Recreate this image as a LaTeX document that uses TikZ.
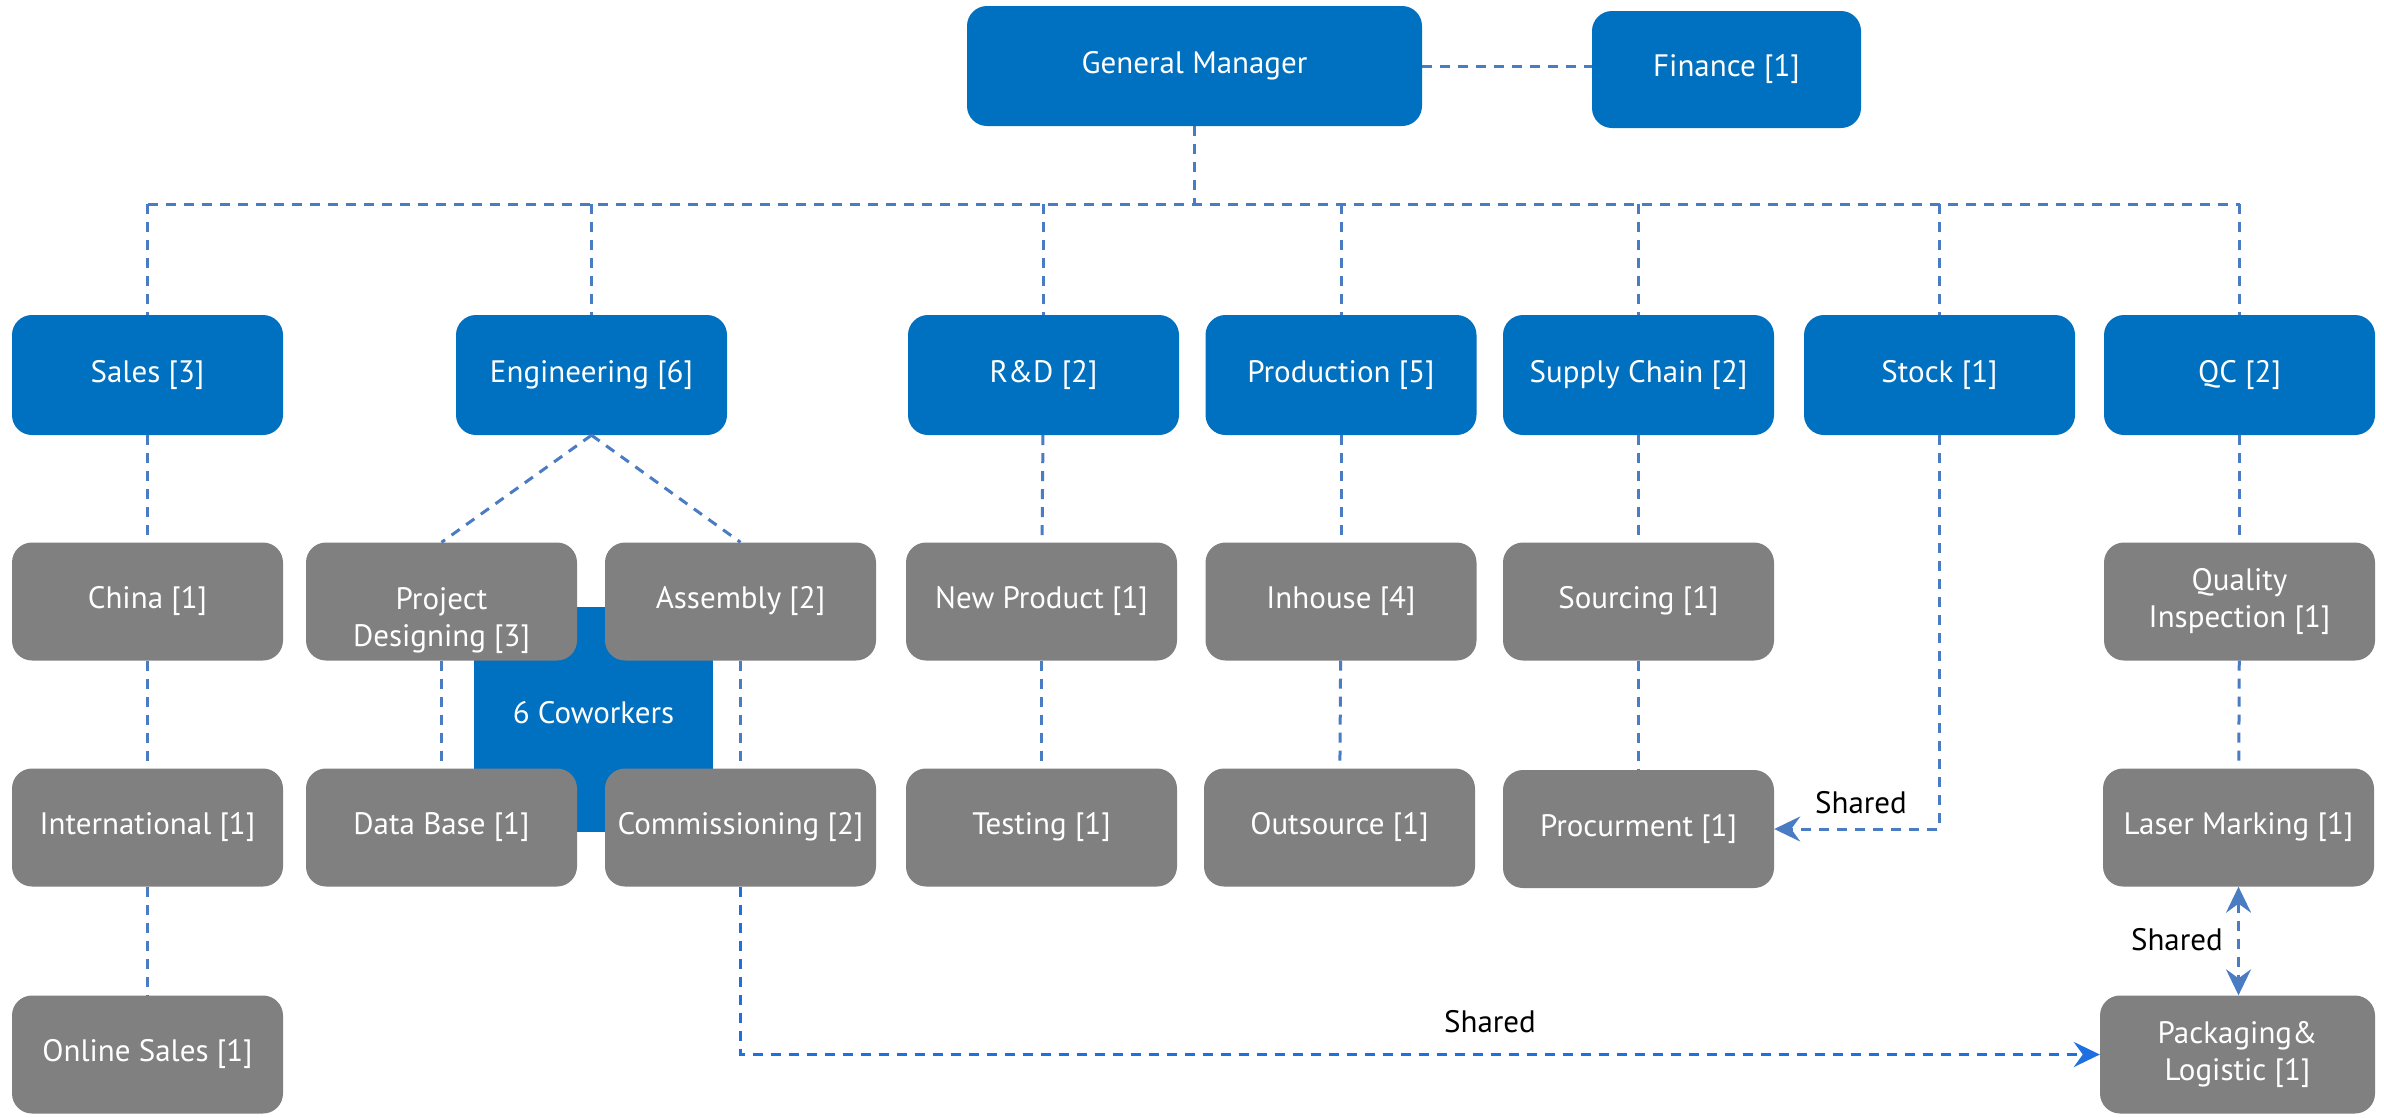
\documentclass[tikz,border=0pt]{standalone}
\usepackage{fontspec}
\setmainfont{PT Sans}
\usetikzlibrary{arrows.meta}
\definecolor{bblue}{HTML}{0070C0}
\definecolor{bgray}{HTML}{808080}
\definecolor{lblue}{HTML}{4A7CC4}
\definecolor{ablue}{HTML}{1E6FE0}
\begin{document}
\begin{tikzpicture}[x=1pt,y=-1pt,
 txt/.style={font=\fontsize{31}{37}\selectfont},
 box/.style={rounded corners=20pt, text=white, align=center, txt, inner sep=0pt, minimum width=271pt, minimum height=118pt},
 bluebox/.style={box, fill=bblue},
 graybox/.style={box, fill=bgray},
 link/.style={draw=lblue, line width=3pt, dash pattern=on 10pt off 8pt},
 tip/.style={-{Stealth[length=26pt,width=25pt,inset=9pt]}},
 dtip/.style={{Stealth[length=26pt,width=25pt,inset=9pt]}-{Stealth[length=26pt,width=25pt,inset=9pt]}},
 lbl/.style={txt, text=black, inner sep=0pt}
]
\path[use as bounding box, fill=white] (0,0) rectangle (2384,1117);

% coworkers square
\node[fill=bblue, minimum width=239pt, minimum height=225pt, inner sep=0pt,
      label={[txt, text=white, yshift=7pt]center:6 Coworkers}] (cow) at (593.5,719.5) {};

% top
\node[bluebox, minimum width=455pt, minimum height=120pt] (gm) at (1194.5,66) {General Manager};
\node[bluebox, minimum width=269pt, minimum height=117pt] (fin) at (1726.5,69.5) {Finance [1]};

% row 2
\node[bluebox, minimum height=120pt] (sales) at (147.5,375) {Sales [3]};
\node[bluebox, minimum height=120pt] (eng) at (591.5,375) {Engineering [6]};
\node[bluebox, minimum height=120pt] (rd) at (1043.5,375) {R\&D [2]};
\node[bluebox, minimum height=120pt] (prod) at (1341,375) {Production [5]};
\node[bluebox, minimum height=120pt] (supply) at (1638.5,375) {Supply Chain [2]};
\node[bluebox, minimum height=120pt] (stock) at (1939.5,375) {Stock [1]};
\node[bluebox, minimum height=120pt] (qc) at (2239.5,375) {QC [2]};

% row 3
\node[graybox] (china) at (147.5,601.5) {China [1]};
\node[graybox, label={[txt, text=white, align=center, yshift=-19pt]center:Project\\Designing [3]}] (pd) at (441.5,601.5) {};
\node[graybox] (asm) at (740.5,601.5) {Assembly [2]};
\node[graybox] (np) at (1041.5,601.5) {New Product [1]};
\node[graybox] (inh) at (1341,601.5) {Inhouse [4]};
\node[graybox] (src) at (1638.5,601.5) {Sourcing [1]};
\node[graybox] (qi) at (2239.5,601.5) {Quality\\Inspection [1]};

% row 4
\node[graybox] (intl) at (147.5,827.5) {International [1]};
\node[graybox] (db) at (441.5,827.5) {Data Base [1]};
\node[graybox] (comm) at (740.5,827.5) {Commissioning [2]};
\node[graybox] (test) at (1041.5,827.5) {Testing [1]};
\node[graybox] (outs) at (1339.5,827.5) {Outsource [1]};
\node[graybox] (proc) at (1638.5,829) {Procurment [1]};
\node[graybox] (laser) at (2238.5,827.5) {Laser Marking [1]};

% row 5
\node[graybox] (online) at (147.5,1054.5) {Online Sales [1]};
\node[graybox, minimum width=275pt] (pack) at (2237.5,1054.5) {Packaging\&\\Logistic [1]};

% connectors
\draw[link] (gm.east) -- (gm.east -| fin.west);
\coordinate (bus) at (0,204);
\draw[link] (gm.south) -- (gm.south |- bus);
\draw[link] (sales.north |- bus) -- (qc.north |- bus);
\foreach \n in {sales,eng,rd,prod,supply,stock,qc}
  \draw[link] (\n.north |- bus) -- (\n.north);

\draw[link] (sales) -- (china);
\draw[link] (china) -- (intl);
\draw[link] (intl) -- (online);
\draw[link] (eng.south) -- (pd.north);
\draw[link] (eng.south) -- (asm.north);
\draw[link] (pd) -- (db);
\draw[link] (asm) -- (comm);
\draw[link] (rd) -- (np);
\draw[link] (np) -- (test);
\draw[link] (prod) -- (inh);
\draw[link] (inh) -- (outs);
\draw[link] (supply) -- (src);
\draw[link] (src) -- (proc);
\draw[link] (qc) -- (qi);
\draw[link] (qi) -- (laser);

\draw[link, tip] (stock.south) -- (stock.south |- proc.east) -- (proc.east);
\draw[link, draw=ablue, tip] (comm.south) -- (comm.south |- pack.west) -- (pack.west);
\draw[link, dtip] (laser.south) -- (pack.north -| laser.south);

\node[lbl] (sh1) at (1861,803) {Shared};
\node[lbl] (sh2) at (1490,1022) {Shared};
\node[lbl, anchor=east] (sh3) at (2223,940) {Shared};
\end{tikzpicture}
\end{document}
